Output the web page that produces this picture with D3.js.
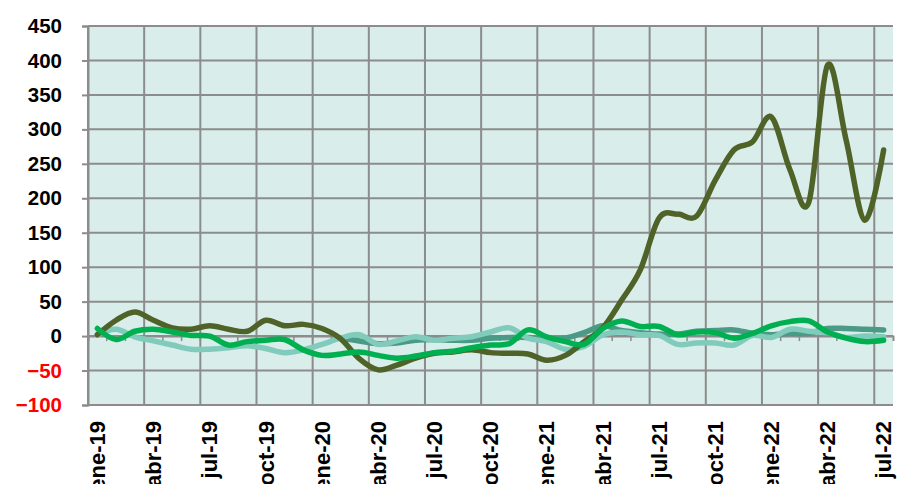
<!DOCTYPE html>
<html>
<head>
<meta charset="utf-8">
<script src="https://cdn.jsdelivr.net/npm/d3@7"></script>
<style>
  body { margin: 0; background: #fff; }
  text { font-family: "Liberation Sans", Arial, sans-serif; font-weight: bold; }
</style>
</head>
<body>
<svg id="chart" width="911" height="484"></svg>
<script>
// Meses (ene-19 .. jul-22)
var meses = [
  "ene-19","feb-19","mar-19","abr-19","may-19","jun-19","jul-19","ago-19","sep-19","oct-19","nov-19","dic-19",
  "ene-20","feb-20","mar-20","abr-20","may-20","jun-20","jul-20","ago-20","sep-20","oct-20","nov-20","dic-20",
  "ene-21","feb-21","mar-21","abr-21","may-21","jun-21","jul-21","ago-21","sep-21","oct-21","nov-21","dic-21",
  "ene-22","feb-22","mar-22","abr-22","may-22","jun-22","jul-22"
];
var etiquetasX = ["ene-19","abr-19","jul-19","oct-19","ene-20","abr-20","jul-20","oct-20",
                  "ene-21","abr-21","jul-21","oct-21","ene-22","abr-22","jul-22"];
var ticksY = [-100, -50, 0, 50, 100, 150, 200, 250, 300, 350, 400, 450];

// Series
var serieOliva = [2,23,35,23,12,10,15,10,7,23,15,17,11,-4,-33,-49,-42,-32,-25,-23,-20,-24,-25,-26,-35,
                  -28,-8,12,52,96,171,177,174,226,270,282,318,241,194,393,284,168,270];
var serieVerde = [11,-5,7,10,6,1,0,-13,-8,-6,-5,-20,-28,-26,-23,-28,-32,-29,-24,-22,-17,-13,-11,9,-1,
                  -8,-12,11,22,14,14,2,6,5,-3,4,15,21,22,6,-3,-8,-6];
var serieTurquesa = [2,10,-1,-7,-13,-19,-19,-17,-14,-18,-24,-20,-12,-3,2,-12,-7,-1,-6,-3,-1,6,12,-3,-8,
                     -19,-15,2,6,2,1,-12,-10,-10,-13,1,-2,10,7,5,-2,0,-1];
var serieTeal = [null,null,null,null,null,null,null,null,null,null,null,null,null,
                 -3,-7,-11,-10,-6,-5,-6,-6,-3,-2,-2,-4,-3,5,15,8,5,3,3,7,8,9,4,2,4,4,11,11,10,9];

var svg = d3.select("#chart"),
    margin = { top: 26, right: 18, bottom: 79, left: 88 },
    width = +svg.attr("width") - margin.left - margin.right,
    height = +svg.attr("height") - margin.top - margin.bottom;

var g = svg.append("g").attr("transform", "translate(" + margin.left + "," + margin.top + ")");

var x = d3.scaleBand().domain(meses).range([0, width]).padding(0);
var y = d3.scaleLinear().domain([-100, 450]).range([height, 0]);
var xCentro = function(m) { return x(m) + x.bandwidth() / 2; };

// fondo del area de trazado
g.append("rect")
    .attr("width", width)
    .attr("height", height)
    .attr("fill", "#d9eeea");

// rejilla horizontal
g.append("g").selectAll("line")
  .data(ticksY)
  .enter().append("line")
    .attr("x1", 0).attr("x2", width)
    .attr("y1", function(d) { return y(d); })
    .attr("y2", function(d) { return y(d); })
    .attr("stroke", "#8c8c8c")
    .attr("stroke-width", 2);

// rejilla vertical (cada trimestre)
g.append("g").selectAll("line")
  .data(etiquetasX)
  .enter().append("line")
    .attr("x1", function(d) { return x(d); })
    .attr("x2", function(d) { return x(d); })
    .attr("y1", 0).attr("y2", height + 1)
    .attr("stroke", "#8c8c8c")
    .attr("stroke-width", 2);

// eje de categorias en cero, con marcas mensuales
var ejeCero = g.append("g")
    .attr("transform", "translate(0," + y(0) + ")")
    .call(d3.axisBottom(x).tickSize(5).tickFormat(""));
ejeCero.selectAll(".tick line")
    .attr("transform", "translate(" + (-x.bandwidth() / 2) + ",0)")
    .attr("stroke", "#8c8c8c").attr("stroke-width", 1.5);
ejeCero.select(".domain").attr("stroke", "#8c8c8c").attr("stroke-width", 2);

// eje Y
var ejeY = g.append("g")
    .call(d3.axisLeft(y).tickValues(ticksY).tickSize(6).tickPadding(20));
ejeY.select(".domain").attr("stroke", "#8c8c8c").attr("stroke-width", 2);
ejeY.selectAll(".tick line").attr("stroke", "#8c8c8c").attr("stroke-width", 2);
ejeY.selectAll(".tick text")
    .style("font-size", "20.5px")
    .attr("fill", function(d) { return d < 0 ? "#ff0000" : "#000"; });

// eje X (etiquetas giradas)
var ejeX = g.append("g")
    .attr("transform", "translate(0," + height + ")")
    .call(d3.axisBottom(x).tickValues(etiquetasX).tickSize(0));
ejeX.select(".domain").remove();
ejeX.selectAll(".tick text")
    .style("font-size", "22px")
    .attr("fill", "#000")
    .attr("y", 0)
    .attr("x", -16)
    .attr("dy", "0.35em")
    .attr("transform", "rotate(-90)")
    .style("text-anchor", "end");

// lineas
var linea = d3.line()
    .defined(function(d) { return d.v !== null; })
    .x(function(d) { return xCentro(d.m); })
    .y(function(d) { return y(d.v); })
    .curve(d3.curveCardinal.tension(0));

var series = [
  { valores: serieTeal, color: "#4b9a86" },
  { valores: serieTurquesa, color: "#80cbbb" },
  { valores: serieOliva, color: "#4f6228" },
  { valores: serieVerde, color: "#00b050" }
];

g.append("g").selectAll("path")
  .data(series)
  .enter().append("path")
    .attr("fill", "none")
    .attr("stroke", function(s) { return s.color; })
    .attr("stroke-width", 5.5)
    .attr("stroke-linejoin", "round")
    .attr("stroke-linecap", "round")
    .attr("d", function(s) {
      return linea(s.valores.map(function(v, i) { return { m: meses[i], v: v }; }));
    });
</script>
</body>
</html>
